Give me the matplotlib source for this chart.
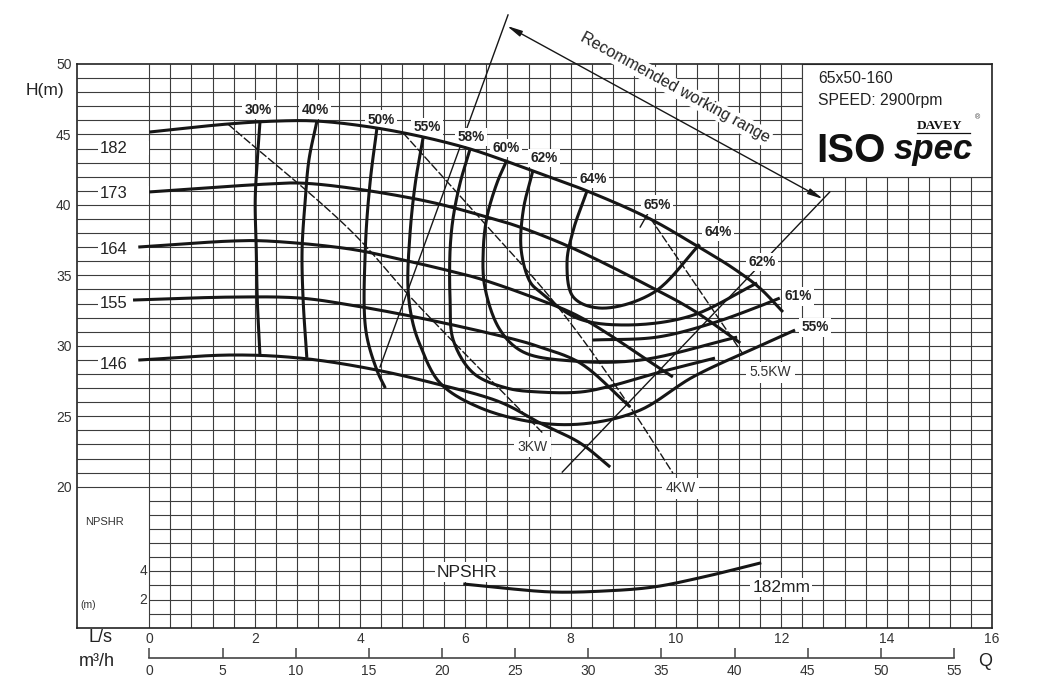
import numpy as np
import matplotlib
matplotlib.use('Agg')
import matplotlib.pyplot as plt
from matplotlib.patches import Rectangle

plt.rcParams['font.family'] = ['Liberation Sans', 'DejaVu Sans']

# ---------------- data (Q in L/s, H in m) ----------------
head_names = ['182', '173', '164', '155', '146']
q182 = [0, 1.49, 2.42, 3.18, 4.19, 5.20, 6.09, 6.71, 7.23, 8.31, 9.51, 10.40, 11.08, 11.59, 12.03]
h182 = [45.17, 45.74, 45.95, 45.95, 45.53, 44.82, 43.97, 43.19, 42.48, 40.99, 39.00, 37.08, 35.52, 34.10, 32.40]
q173 = [0, 2.23, 2.86, 3.81, 5.33, 6.41, 6.98, 7.99, 9.56, 10.32, 11.22]
h173 = [40.92, 41.48, 41.55, 41.20, 40.21, 39.14, 38.50, 37.01, 34.10, 32.54, 30.20]
q164 = [-0.21, 1.59, 2.23, 3.81, 4.82, 5.71, 6.29, 7.42, 8.18, 9.94]
h164 = [37.01, 37.44, 37.44, 36.87, 36.09, 35.31, 34.74, 33.25, 32.04, 27.79]
q155 = [-0.31, 1.59, 2.86, 3.81, 5.33, 6.98, 7.42, 8.18, 9.13]
h155 = [33.25, 33.46, 33.39, 32.90, 31.83, 30.41, 29.91, 28.78, 25.66]
q146 = [-0.21, 1.59, 2.86, 4.13, 5.39, 6.66, 7.42, 8.18, 8.75]
h146 = [28.99, 29.35, 29.13, 28.42, 27.36, 26.01, 24.52, 23.10, 21.40]
head_label_q = [-0.67, -0.67, -0.67, -0.67, -0.67]
head_label_h = [44.02, 40.84, 36.87, 32.97, 28.71]

# efficiency iso-lines
q_e30 = [2.10, 2.05, 2.01, 2.03, 2.05, 2.10]
h_e30 = [45.88, 43.19, 40.35, 36.80, 33.25, 29.30]
q_e40 = [3.18, 3.03, 2.96, 2.90, 2.92, 2.99]
h_e40 = [45.92, 43.19, 40.35, 36.80, 33.25, 29.15]
q_e50 = [4.32, 4.19, 4.10, 4.11, 4.32, 4.48]
h_e50 = [45.42, 41.55, 36.80, 31.12, 28.28, 27.00]
q_e55 = [5.20, 5.05, 4.95, 4.91, 4.99, 5.14, 5.52, 6.29, 7.42, 8.37, 9.32, 10.32, 11.54, 12.26]
h_e55 = [44.82, 41.55, 38.01, 34.17, 31.83, 30.06, 27.36, 25.59, 24.52, 24.52, 25.44, 27.79, 29.91, 31.12]
q_e58 = [6.09, 5.90, 5.77, 5.71, 5.71, 5.77, 6.15, 6.79, 7.42, 8.18, 8.69, 9.70, 10.74]
h_e58 = [43.97, 41.55, 39.14, 36.80, 33.25, 30.41, 28.07, 27.00, 26.72, 26.72, 27.08, 28.14, 29.13]
q_e60 = [6.79, 6.60, 6.41, 6.34, 6.37, 6.66, 7.10, 8.05, 9.32, 11.16]
h_e60 = [43.19, 41.55, 39.14, 36.80, 34.17, 31.12, 29.56, 28.92, 28.99, 30.62]
q_e61 = [8.41, 9.64, 10.70, 11.59, 11.97]
h_e61 = [30.41, 30.62, 31.62, 32.82, 33.39]
q_e62 = [7.28, 7.10, 7.06, 7.23, 7.42, 8.12, 9.00, 10.27, 11.54]
h_e62 = [42.40, 39.64, 36.80, 34.53, 33.82, 31.97, 31.48, 32.11, 34.46]
q_e64 = [8.31, 8.05, 7.93, 8.05, 8.56, 9.56, 10.45]
h_e64 = [40.99, 38.22, 35.88, 33.46, 32.68, 33.75, 37.20]
q_e65 = [9.32, 9.47]
h_e65 = [38.43, 39.42]

eff_labels = ['30%', '40%', '50%', '55%', '58%', '60%', '62%', '64%', '65%', '64%', '62%', '61%', '55%']
eff_label_q = [2.06, 3.15, 4.40, 5.27, 6.11, 6.77, 7.49, 8.42, 9.64, 10.80, 11.63, 12.32, 12.64]
eff_label_h = [46.74, 46.74, 46.03, 45.53, 44.82, 44.04, 43.33, 41.84, 40.00, 38.08, 35.95, 33.53, 31.33]

# power lines
q_3kw = [1.49, 3.81, 5.01, 7.47]
h_3kw = [45.74, 38.22, 33.25, 23.81]
q_4kw = [4.82, 6.29, 7.76, 9.13, 9.94]
h_4kw = [45.10, 39.00, 32.75, 25.66, 20.97]
q_55kw = [9.51, 11.27]
h_55kw = [39.07, 29.42]
power_labels = ['3KW', '4KW', '5.5KW']
power_label_q = [7.28, 10.08, 11.79]
power_label_h = [22.82, 19.91, 28.14]

# recommended working range
q_wr_left = [6.81, 4.38]
h_wr_left = [53.48, 28.50]
q_wr_right = [12.92, 7.84]
h_wr_right = [40.92, 21.04]
q_arrow = [6.79, 12.79]
h_arrow = [52.70, 40.42]

# NPSHR (m)
q_np = [5.99, 6.72, 7.67, 8.62, 9.56, 10.51, 11.59]
n_np = [3.09, 2.81, 2.53, 2.60, 2.88, 3.59, 4.58]

x_ticks_ls = [0, 2, 4, 6, 8, 10, 12, 14, 16]
y_ticks_h = [20, 25, 30, 35, 40, 45, 50]
x_ticks_m3h = [0, 5, 10, 15, 20, 25, 30, 35, 40, 45, 50, 55]

# ---------------- layout ----------------
XMIN, XMAX = -1.373, 16
YMIN, YMAX = 10, 50
NPSH_BASE = 10
INK = '#161616'
GRID = '#3c3c3c'

fig = plt.figure(figsize=(10.54, 7.0), dpi=100)
ax = fig.add_axes([0.0731, 0.1033, 0.8681, 0.8053])
ax.set_xlim(XMIN, XMAX)
ax.set_ylim(YMIN, YMAX)
for s in ax.spines.values():
    s.set_linewidth(1.2)
    s.set_color('#222222')

# grid
for h in range(YMIN + 1, YMAX):
    x0 = XMIN if h >= 20 else 0
    ax.hlines(h, x0, XMAX, colors=GRID, lw=0.8, zorder=1)
for q in np.arange(0, XMAX - 0.01, 0.4):
    ax.vlines(q, YMIN, YMAX, colors=GRID, lw=0.8, zorder=1)

# info box
ax.add_patch(Rectangle((12.4, 42), XMAX - 12.4, YMAX - 42, fc='white', ec=GRID, lw=0.8, zorder=1.5))

ax.set_xticks(x_ticks_ls)
ax.set_yticks(y_ticks_h)
ax.tick_params(length=0, labelsize=10, labelcolor='#333333')
ax.tick_params(axis='x', pad=3)
ax.tick_params(axis='y', pad=4)


def smooth(qs, hs, n=24):
    pts = ax.transData.transform(np.column_stack([qs, hs]))
    if len(pts) < 3:
        return np.asarray(qs), np.asarray(hs)
    P = np.vstack([2 * pts[0] - pts[1], pts, 2 * pts[-1] - pts[-2]])
    out = []
    for i in range(1, len(P) - 2):
        p0, p1, p2, p3 = P[i - 1], P[i], P[i + 1], P[i + 2]
        t0 = 0.0
        t1 = t0 + max(np.hypot(*(p1 - p0)), 1e-6) ** 0.5
        t2 = t1 + max(np.hypot(*(p2 - p1)), 1e-6) ** 0.5
        t3 = t2 + max(np.hypot(*(p3 - p2)), 1e-6) ** 0.5
        t = np.linspace(t1, t2, n)[:, None]
        A1 = (t1 - t) / (t1 - t0) * p0 + (t - t0) / (t1 - t0) * p1
        A2 = (t2 - t) / (t2 - t1) * p1 + (t - t1) / (t2 - t1) * p2
        A3 = (t3 - t) / (t3 - t2) * p2 + (t - t2) / (t3 - t2) * p3
        B1 = (t2 - t) / (t2 - t0) * A1 + (t - t0) / (t2 - t0) * A2
        B2 = (t3 - t) / (t3 - t1) * A2 + (t - t1) / (t3 - t1) * A3
        C = (t2 - t) / (t2 - t1) * B1 + (t - t1) / (t2 - t1) * B2
        out.append(C if i == len(P) - 3 else C[:-1])
    D = ax.transData.inverted().transform(np.vstack(out))
    return D[:, 0], D[:, 1]


def thick(qs, hs):
    x, y = smooth(qs, hs)
    ax.plot(x, y, color=INK, lw=2.2, solid_capstyle='butt', zorder=6)


for qs, hs in [(q182, h182), (q173, h173), (q164, h164), (q155, h155), (q146, h146)]:
    thick(qs, hs)
for qs, hs in [(q_e30, h_e30), (q_e40, h_e40), (q_e50, h_e50), (q_e55, h_e55), (q_e58, h_e58),
               (q_e60, h_e60), (q_e61, h_e61), (q_e62, h_e62), (q_e64, h_e64)]:
    thick(qs, hs)
ax.plot(q_e65, h_e65, color=INK, lw=1.0, zorder=3)

# power lines (dashed)
for qs, hs in [(q_3kw, h_3kw), (q_4kw, h_4kw), (q_55kw, h_55kw)]:
    x, y = smooth(qs, hs)
    ax.plot(x, y, color=INK, lw=1.0, dashes=(6, 1.6), zorder=3)

# recommended working range
ax.plot(q_wr_left, h_wr_left, color=INK, lw=1.0, zorder=3, clip_on=False)
ax.plot(q_wr_right, h_wr_right, color=INK, lw=1.0, zorder=3, clip_on=False)
ax.annotate('', xy=(q_arrow[1], h_arrow[1]), xytext=(q_arrow[0], h_arrow[0]),
            arrowprops=dict(arrowstyle='<|-|>,head_length=0.9,head_width=0.18', lw=1.0,
                            color=INK, shrinkA=0, shrinkB=0),
            annotation_clip=False, zorder=3)
p_a = ax.transData.transform((q_arrow[0], h_arrow[0]))
p_b = ax.transData.transform((q_arrow[1], h_arrow[1]))
ang = np.degrees(np.arctan2(p_b[1] - p_a[1], p_b[0] - p_a[0]))
ax.text(9.98, 48.30, 'Recommended working range', rotation=ang, rotation_mode='anchor',
        ha='center', va='center', fontsize=11.5, color='#222222', zorder=5,
        bbox=dict(boxstyle='square,pad=0.1', fc='white', ec='none'))

# NPSHR curve
xn, yn = smooth(q_np, [NPSH_BASE + v for v in n_np])
ax.plot(xn, yn, color=INK, lw=2.2, zorder=6)
ax.text(6.03, 13.95, 'NPSHR', fontsize=12.5, ha='center', va='center', color='#222222', zorder=5,
        bbox=dict(boxstyle='square,pad=0.12', fc='white', ec='none'))
ax.text(11.45, 12.88, '182mm', fontsize=12.5, ha='left', va='center', color='#222222', zorder=5,
        bbox=dict(boxstyle='square,pad=0.12', fc='white', ec='none'))

# labels
for t, q, h in zip(eff_labels, eff_label_q, eff_label_h):
    ax.text(q, h, t, fontsize=9.8, fontweight='bold', ha='center', va='center', color='#222222',
            zorder=5, bbox=dict(boxstyle='square,pad=0.18', fc='white', ec='none'))
for t, q, h in zip(power_labels, power_label_q, power_label_h):
    ax.text(q, h, t, fontsize=10, ha='center', va='center', color='#333333',
            zorder=5, bbox=dict(boxstyle='square,pad=0.25', fc='white', ec='none'))
for t, q, h in zip(head_names, head_label_q, head_label_h):
    ax.add_patch(Rectangle((-0.98, h - 0.5), 0.98, 1.0, fc='white', ec='none', zorder=1.6))
    ax.text(q, h, t, fontsize=12, ha='center', va='center', color='#222222', zorder=5)

# NPSHR scale labels (left)
ax.text(-0.86, 17.49, 'NPSHR', fontsize=8, ha='center', va='center', color='#333333')
ax.text(-1.16, 11.6, '(m)', fontsize=7.5, ha='center', va='center', color='#333333')
ax.text(-0.12, NPSH_BASE + 4, '4', fontsize=10, ha='center', va='center', color='#333333')
ax.text(-0.12, NPSH_BASE + 2, '2', fontsize=10, ha='center', va='center', color='#333333')

# info box text
logo_family = ['Liberation Sans Narrow', 'Liberation Sans', 'DejaVu Sans']
ax.text(12.70, 48.94, '65x50-160', fontsize=11.3, ha='left', va='center', color='#222222', zorder=5)
ax.text(12.70, 47.44, 'SPEED: 2900rpm', fontsize=11.3, ha='left', va='center', color='#222222', zorder=5)
ax.text(12.66, 43.04, 'ISO', fontsize=29, fontweight='bold', ha='left', va='baseline',
        family=logo_family, color='#111111', zorder=5)
ax.text(14.13, 43.26, 'spec', fontsize=25, fontweight='bold', style='italic', ha='left', va='baseline',
        family=logo_family, color='#111111', zorder=5)
ax.text(14.57, 45.62, 'DAVEY', fontsize=9.5, fontweight='bold', ha='left', va='center',
        family=['Liberation Serif', 'DejaVu Serif'], color='#111111', zorder=5)
ax.plot([14.57, 15.58], [45.12, 45.12], color='#111111', lw=0.9, zorder=5)
ax.text(15.73, 46.17, '®', fontsize=5, ha='center', va='center', color='#333333', zorder=5)

# m3/h axis
ax2 = fig.add_axes([0.0731, 0.06, 0.8681, 0.0001])
ax2.set_xlim(XMIN * 3.6, XMAX * 3.6)
ax2.patch.set_visible(False)
for k in ['top', 'left', 'right']:
    ax2.spines[k].set_visible(False)
ax2.spines['bottom'].set_bounds(0, 55)
ax2.spines['bottom'].set_linewidth(1.2)
ax2.spines['bottom'].set_color('#444444')
ax2.set_yticks([])
ax2.set_xticks(x_ticks_m3h)
ax2.tick_params(axis='x', direction='in', length=7, width=1.1, color='#444444',
                labelsize=10, labelcolor='#333333', pad=4)

# axis titles
fig.text(45 / 1054, 1 - 90 / 700, 'H(m)', fontsize=12.5, ha='center', va='center', color='#222222')
fig.text(100 / 1054, 1 - 637 / 700, 'L/s', fontsize=13, ha='center', va='center', color='#222222')
fig.text(97 / 1054, 1 - 661 / 700, 'm³/h', fontsize=13, ha='center', va='center', color='#222222')
fig.text(985 / 1054, 1 - 661 / 700, 'Q', fontsize=13, ha='center', va='center', color='#222222')

fig.savefig('out.png', dpi=100, facecolor='white')
